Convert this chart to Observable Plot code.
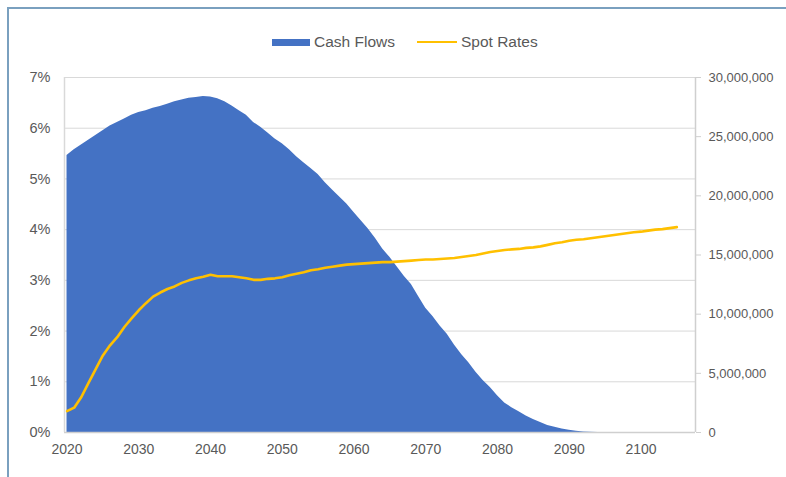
<!DOCTYPE html>
<html>
<head>
<meta charset="utf-8">
<script src="https://cdn.jsdelivr.net/npm/d3@7"></script>
<script src="https://cdn.jsdelivr.net/npm/@observablehq/plot@0.6"></script>
<style>
  html, body { margin: 0; padding: 0; background: #fff; }
  #wrap { position: relative; width: 786px; height: 477px; overflow: hidden; font-family: "Liberation Sans", Arial, sans-serif; }
  #frame { position: absolute; left: 7px; top: 7px; width: 800px; height: 500px; border-left: 2px solid #7aa0bf; border-top: 2px solid #7aa0bf; pointer-events: none; }
  #legend { position: absolute; top: 33px; left: 272px; display: flex; align-items: center; font-size: 15.5px; color: #595959; }
  .sw { display: inline-block; margin-right: 4px; }
  #plot { position: absolute; left: 0; top: 0; }
</style>
</head>
<body>
<div id="wrap">
  <div id="plot"></div>
  <div id="legend">
    <span class="sw" style="width:38px;height:7px;background:#4472C4;"></span><span>Cash Flows</span>
    <span class="sw" style="width:40px;height:2.5px;background:#FFC000;margin-left:22px;"></span><span>Spot Rates</span>
  </div>
  <div id="frame"></div>
</div>
<script>
const years = d3.range(2020, 2108);

// Cash flows (currency units), 2020..2107
const cashFlows = [
  23.4, 23.9, 24.3, 24.7, 25.1, 25.5, 25.9, 26.2, 26.5, 26.8,
  27.05, 27.2, 27.4, 27.55, 27.75, 27.95, 28.1, 28.25, 28.3, 28.4,
  28.35, 28.2, 27.95, 27.6, 27.2, 26.8, 26.2, 25.8, 25.3, 24.8,
  24.4, 23.9, 23.3, 22.8, 22.3, 21.8, 21.1, 20.5, 19.9, 19.3,
  18.6, 17.9, 17.2, 16.4, 15.5, 14.8, 14.0, 13.2, 12.5, 11.5,
  10.5, 9.8, 9.0, 8.3, 7.4, 6.6, 5.9, 5.1, 4.4, 3.8,
  3.1, 2.5, 2.1, 1.75, 1.4, 1.1, 0.85, 0.6, 0.45, 0.3,
  0.18, 0.1, 0.05, 0.02, 0, 0, 0, 0, 0, 0,
  0, 0, 0, 0, 0, 0, 0, 0
].map(v => v * 1e6);

// Spot rates (%), 2020..2105
const spotRates = [
  0.42, 0.49, 0.70, 0.98, 1.25, 1.52, 1.72, 1.88, 2.08, 2.25,
  2.41, 2.55, 2.68, 2.76, 2.83, 2.88, 2.95, 3.00, 3.04, 3.07,
  3.11, 3.08, 3.08, 3.08, 3.06, 3.04, 3.01, 3.01, 3.03, 3.04,
  3.06, 3.10, 3.13, 3.16, 3.20, 3.22, 3.25, 3.27, 3.29, 3.31,
  3.32, 3.33, 3.34, 3.35, 3.36, 3.36, 3.37, 3.38, 3.39, 3.40,
  3.41, 3.41, 3.42, 3.43, 3.44, 3.46, 3.48, 3.50, 3.53, 3.56,
  3.58, 3.60, 3.61, 3.62, 3.64, 3.65, 3.67, 3.70, 3.73, 3.75,
  3.78, 3.80, 3.81, 3.83, 3.85, 3.87, 3.89, 3.91, 3.93, 3.95,
  3.96, 3.98, 4.00, 4.01, 4.03, 4.05
];

const leftTicks = [0, 1, 2, 3, 4, 5, 6, 7];
const rightTicks = [0, 5e6, 10e6, 15e6, 20e6, 25e6, 30e6];
const xTicks = [2020, 2030, 2040, 2050, 2060, 2070, 2080, 2090, 2100];

const leftMax = 0.07;
const rightMax = 30e6;
const toLeft = v => v / rightMax * leftMax;

const cfData = years.map((y, i) => ({year: y, value: cashFlows[i]}));
const srData = spotRates.map((r, i) => ({year: 2020 + i, rate: r / 100}));

const chart = Plot.plot({
  width: 786,
  height: 477,
  marginLeft: 64,
  marginRight: 91,
  marginTop: 77,
  marginBottom: 45,
  style: {fontFamily: "'Liberation Sans', Arial, sans-serif", background: "transparent"},
  x: {domain: [2019.65, 2107.6]},
  y: {domain: [0, leftMax]},
  marks: [
    Plot.ruleY(leftTicks.map(d => d / 100), {stroke: "#d9d9d9", strokeWidth: 1}),
    Plot.areaY(cfData, {x: "year", y: d => toLeft(d.value), fill: "#4472C4"}),
    Plot.lineY(srData, {x: "year", y: "rate", stroke: "#FFC000", strokeWidth: 2.6, strokeLinejoin: "round"}),
    Plot.ruleY([0], {stroke: "#cfcfcf", strokeWidth: 1.5}),
    Plot.ruleX([2019.65], {y1: 0, y2: leftMax, stroke: "#d9d9d9", strokeWidth: 1.5}),
    Plot.ruleX([2107.6], {y1: 0, y2: leftMax, stroke: "#cfcfcf", strokeWidth: 1.5}),
    Plot.axisY({
      anchor: "left", ticks: leftTicks.map(d => d / 100), tickSize: 0, tickPadding: 14,
      tickFormat: d => Math.round(d * 100) + "%", fontSize: 14.5, fill: "#595959", label: null
    }),
    Plot.axisY({
      anchor: "right", ticks: rightTicks.map(toLeft), tickSize: 5, tickPadding: 8,
      tickFormat: d => d3.format(",")(Math.round(d / leftMax * rightMax / 1e6) * 1e6),
      fontSize: 13, stroke: "#cfcfcf", fill: "#595959", label: null
    }),
    Plot.axisX({
      ticks: xTicks, tickSize: 0, tickPadding: 12, tickFormat: d => String(d),
      fontSize: 14, fill: "#595959", label: null
    })
  ]
});
document.getElementById("plot").appendChild(chart);
</script>
</body>
</html>
